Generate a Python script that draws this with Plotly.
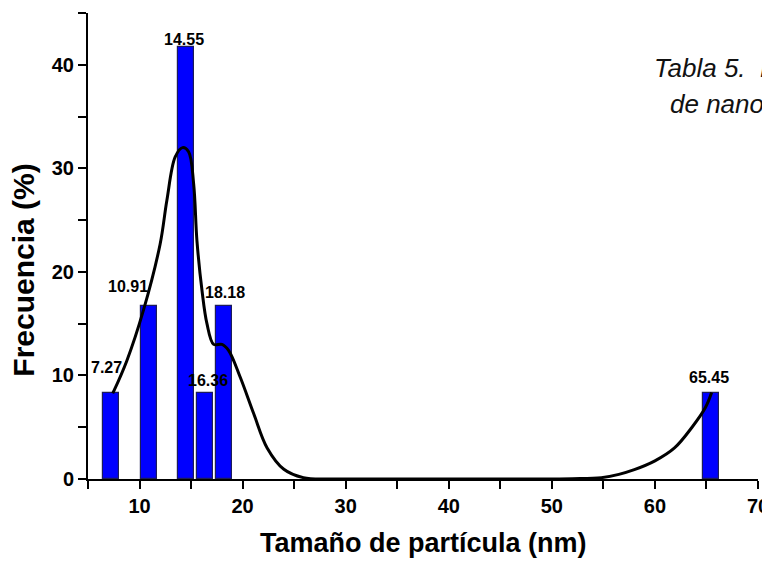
# -*- coding: utf-8 -*-
"""
Histograma de tamaño de partícula con curva de ajuste (Plotly).
"""

import plotly.graph_objects as go

# ── Datos ────────────────────────────────────────────────────────────────────
tamanos = [7.27, 10.91, 14.55, 16.36, 18.18, 65.45]
frecuencias = [8.33, 16.67, 41.67, 8.33, 16.67, 8.33]
etiquetas = ["7.27", "10.91", "14.55", "16.36", "18.18", "65.45"]

# curva de ajuste
ajuste_x = [7.4, 8.76, 10.38, 12.0, 12.65, 13.46, 14.17, 14.76, 15.25, 15.57,
            16.06, 16.54, 17.19, 18.0, 18.65, 19.78, 21.08, 22.38, 24.0, 25.9,
            28.3, 32, 40, 48, 52, 54.8, 56.5, 58.0, 60.0, 61.9, 63.6, 64.9, 65.5]
ajuste_y = [8.26, 11.4, 16.3, 22.7, 26.9, 31.1, 32.0, 31.6, 28.5, 23.0,
            18.2, 15.0, 13.0, 13.0, 12.4, 9.8, 6.3, 3.0, 0.94, 0.13,
            0.0, 0.0, 0.0, 0.0, 0.03, 0.13, 0.45, 0.9, 1.75, 3.0, 5.0, 6.9, 8.35]

ticks_x = [10, 20, 30, 40, 50, 60, 70]
ticks_y = [0, 10, 20, 30, 40]

# ── Estilo ───────────────────────────────────────────────────────────────────
CORES = {
    "barra": "#0000FF",
    "borde": "#1C1C5A",
    "linea": "#000000",
    "texto": "#000000",
}
FUENTE = "Arial, Liberation Sans, sans-serif"

# desplazamiento (px) de cada etiqueta respecto al tope de su barra
desplaz = [(-5, 25), (-21, 20), (-2, 8), (3, 12), (1, 14), (-2, 15)]

fig = go.Figure()

fig.add_trace(go.Bar(
    x=tamanos, y=frecuencias,
    width=1.55,
    marker=dict(color=CORES["barra"], line=dict(color=CORES["borde"], width=1.2)),
    showlegend=False,
))

fig.add_trace(go.Scatter(
    x=ajuste_x, y=ajuste_y,
    mode="lines",
    line=dict(color=CORES["linea"], width=3, shape="spline", smoothing=1.0),
    showlegend=False,
))

for xv, yv, txt, (dx, dy) in zip(tamanos, frecuencias, etiquetas, desplaz):
    fig.add_annotation(
        x=xv, y=yv, text=f"<b>{txt}</b>",
        showarrow=False, xanchor="center", yanchor="middle",
        xshift=dx, yshift=dy,
        font=dict(size=16, color=CORES["texto"], family=FUENTE),
    )

# títulos de ejes
fig.add_annotation(
    xref="paper", yref="paper", x=0.5, y=-0.137,
    text="<b>Tamaño de partícula (nm)</b>", showarrow=False,
    xanchor="center", yanchor="middle",
    font=dict(size=27, color=CORES["texto"], family=FUENTE),
)
fig.add_annotation(
    xref="paper", yref="paper", x=-0.096, y=0.4485,
    text="<b>Frecuencia (%)</b>", showarrow=False, textangle=-90,
    xanchor="center", yanchor="middle",
    font=dict(size=30, color=CORES["texto"], family=FUENTE),
)

# texto recortado a la derecha
fig.add_annotation(
    xref="paper", yref="paper", x=0.842, y=0.882,
    text="<i>Tabla 5.&nbsp;&nbsp;Distribución de tamaño</i>", showarrow=False,
    xanchor="left", yanchor="middle",
    font=dict(size=26, color="#111111", family=FUENTE),
)
fig.add_annotation(
    xref="paper", yref="paper", x=0.865, y=0.804,
    text="<i>de nanopartículas</i>", showarrow=False,
    xanchor="left", yanchor="middle",
    font=dict(size=26, color="#111111", family=FUENTE),
)

eje = dict(
    showline=True, linecolor="black", linewidth=2,
    ticks="outside", ticklen=8, tickwidth=2, tickcolor="black",
    showgrid=False, zeroline=False,
    tickfont=dict(size=20, color="black", family=FUENTE, weight="bold"),
)

fig.update_xaxes(
    **eje, range=[5, 70], tickvals=ticks_x,
    minor=dict(tickvals=[5, 15, 25, 35, 45, 55, 65], ticklen=8, tickwidth=2,
               tickcolor="black", ticks="outside"),
)
fig.update_yaxes(
    **eje, range=[0, 45], tickvals=ticks_y,
    minor=dict(tickvals=[5, 15, 25, 35, 45], ticklen=8, tickwidth=2,
               tickcolor="black", ticks="outside"),
)

fig.update_layout(
    width=770, height=561,
    paper_bgcolor="white", plot_bgcolor="white",
    margin=dict(l=80, r=20, t=5, b=90),
    bargap=0,
    font=dict(family=FUENTE, color="black"),
)

fig.write_html("out.html")
